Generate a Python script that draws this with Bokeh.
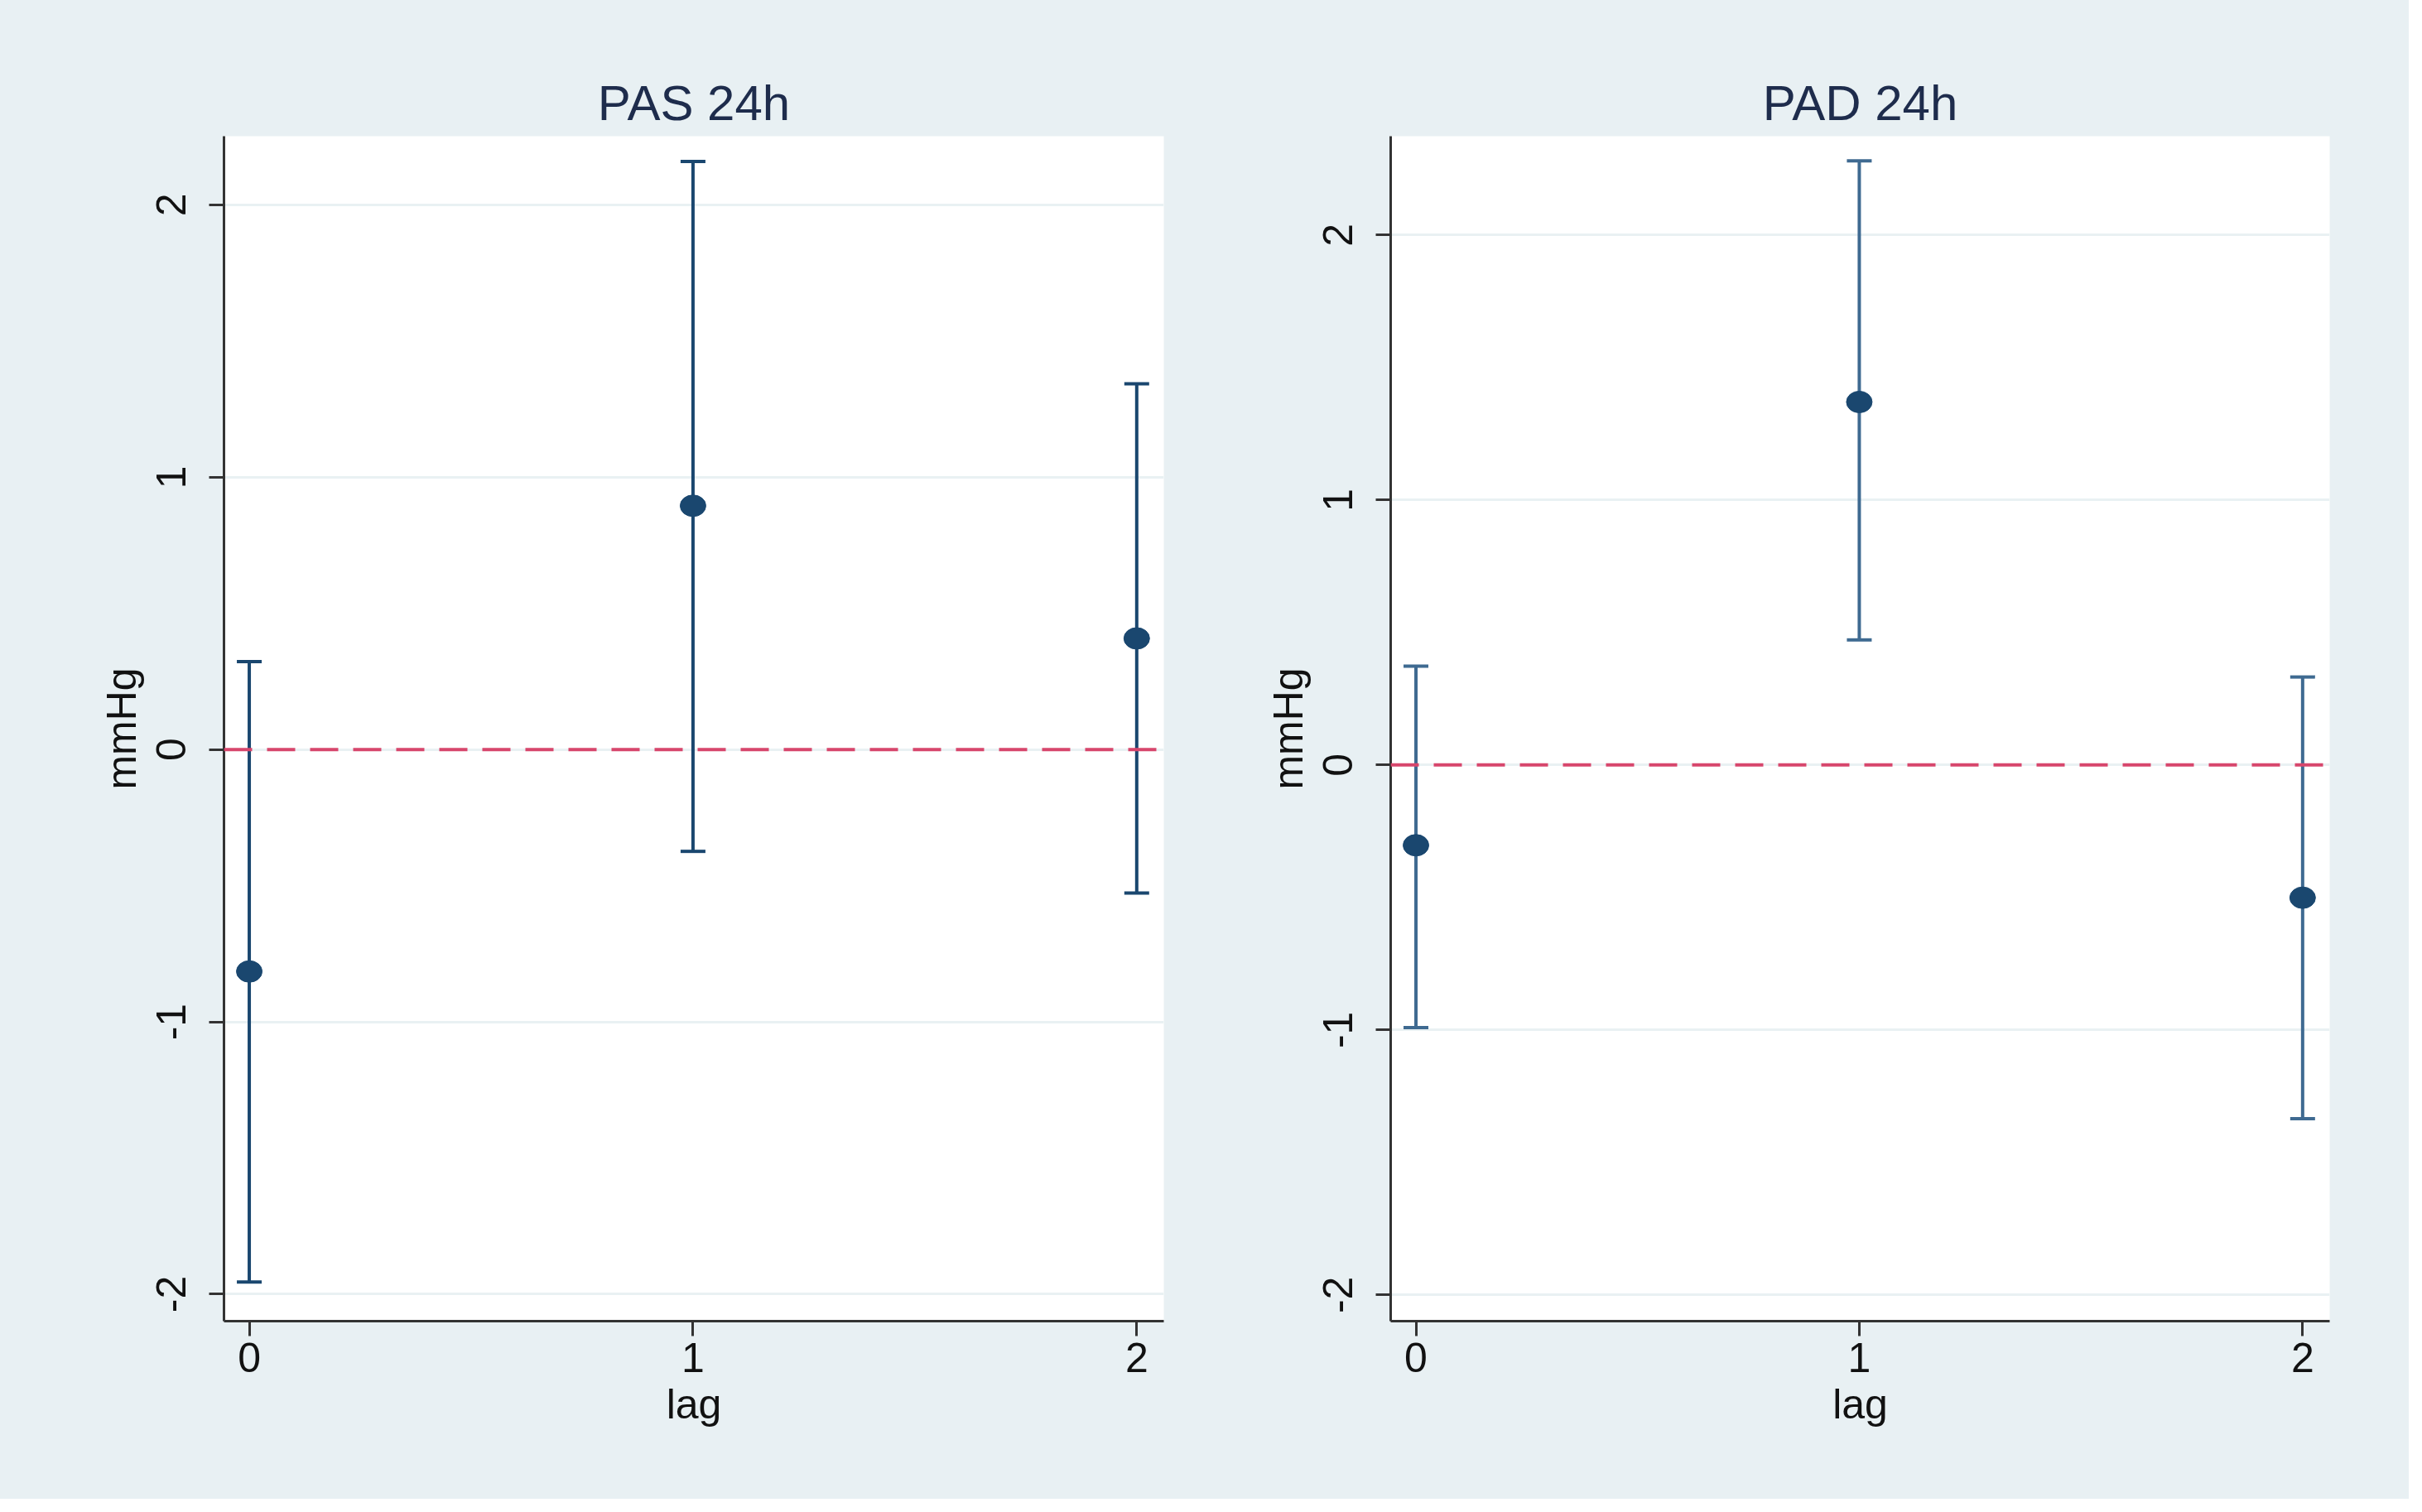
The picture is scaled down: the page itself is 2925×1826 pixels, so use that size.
import math
from bokeh.plotting import figure
from bokeh.layouts import row
from bokeh.models import ColumnDataSource, Whisker, TeeHead, Span, FixedTicker, Range1d
from bokeh.embed import file_html
from bokeh.resources import INLINE

# ---- data ----
lags = [0, 1, 2]
x_ticks = [0, 1, 2]
y_ticks = [-2, -1, 0, 1, 2]
y_tick_labels = ["-2", "-1", "0", "1", "2"]

pas_title = "PAS 24h"
pas_est = [-0.815, 0.895, 0.408]
pas_lo = [-1.955, -0.374, -0.527]
pas_hi = [0.323, 2.159, 1.343]

pad_title = "PAD 24h"
pad_est = [-0.303, 1.370, -0.501]
pad_lo = [-0.991, 0.472, -1.335]
pad_hi = [0.373, 2.280, 0.332]

BG = "#e8f0f3"
NAVY = "#1a476f"
GRID = "#e9f1f3"
RED = "#d7466c"
FONT = "Liberation Sans Narrow, Liberation Sans, Arial, sans-serif"
TXT = "#111111"


def make_panel(title, est, lo, hi, yr, width, border_left, border_right, bar_color):
    p = figure(width=width, height=1810, output_backend="svg", toolbar_location=None,
               x_range=Range1d(-0.057, 2.061), y_range=Range1d(*yr),
               min_border_left=border_left, min_border_right=border_right,
               min_border_top=164, min_border_bottom=215)
    p.background_fill_color = "white"
    p.border_fill_color = BG
    p.outline_line_color = None

    p.title.text = title
    p.title.align = "center"
    p.title.text_font = FONT
    p.title.text_font_size = "60px"
    p.title.text_font_style = "normal"
    p.title.text_color = "#1e2c4c"
    p.title.standoff = 14

    for ax in (p.xaxis[0], p.yaxis[0]):
        ax.axis_line_color = "#333333"
        ax.axis_line_width = 3
        ax.major_tick_line_color = "#333333"
        ax.major_tick_line_width = 3
        ax.major_tick_out = 18
        ax.major_tick_in = 0
        ax.minor_tick_line_color = None
        ax.major_label_text_font = FONT
        ax.major_label_text_font_size = "50px"
        ax.major_label_text_color = TXT
        ax.axis_label_text_font = FONT
        ax.axis_label_text_font_size = "50px"
        ax.axis_label_text_font_style = "normal"
        ax.axis_label_text_color = TXT
    p.xaxis.ticker = FixedTicker(ticks=x_ticks)
    p.yaxis.ticker = FixedTicker(ticks=y_ticks)
    p.yaxis.major_label_overrides = {t: s for t, s in zip(y_ticks, y_tick_labels)}
    p.xaxis.axis_label = "lag"
    p.yaxis.axis_label = "mmHg"
    p.xaxis.major_label_standoff = 8
    p.xaxis.axis_label_standoff = 8
    p.yaxis.major_label_orientation = "vertical"
    p.yaxis.major_label_standoff = 28
    p.yaxis.axis_label_standoff = 12

    p.xgrid.grid_line_color = None
    p.ygrid.grid_line_color = GRID
    p.ygrid.grid_line_width = 3

    zero = Span(location=0, dimension="width", line_color=RED, line_width=4,
                line_dash="34 18")
    p.add_layout(zero)

    src = ColumnDataSource(dict(x=lags, est=est, lo=lo, hi=hi))
    w = Whisker(source=src, base="x", lower="lo", upper="hi", dimension="height",
                line_color=bar_color, line_width=4,
                upper_head=TeeHead(size=30, line_color=bar_color, line_width=4),
                lower_head=TeeHead(size=30, line_color=bar_color, line_width=4))
    p.add_layout(w)
    p.ellipse(x="x", y="est", width=31, height=26, width_units="screen",
              height_units="screen", source=src, fill_color=NAVY, line_color=NAVY)
    return p


left = make_panel(pas_title, pas_est, pas_lo, pas_hi, (-2.099, 2.252), 1462, 270, 57, NAVY)
right = make_panel(pad_title, pad_est, pad_lo, pad_hi, (-2.099, 2.373), 1447, 217, 96, "#3f6a91")

layout = row(left, right, spacing=0, styles={"background-color": BG})
open("out.html", "w").write(file_html(layout, INLINE))
